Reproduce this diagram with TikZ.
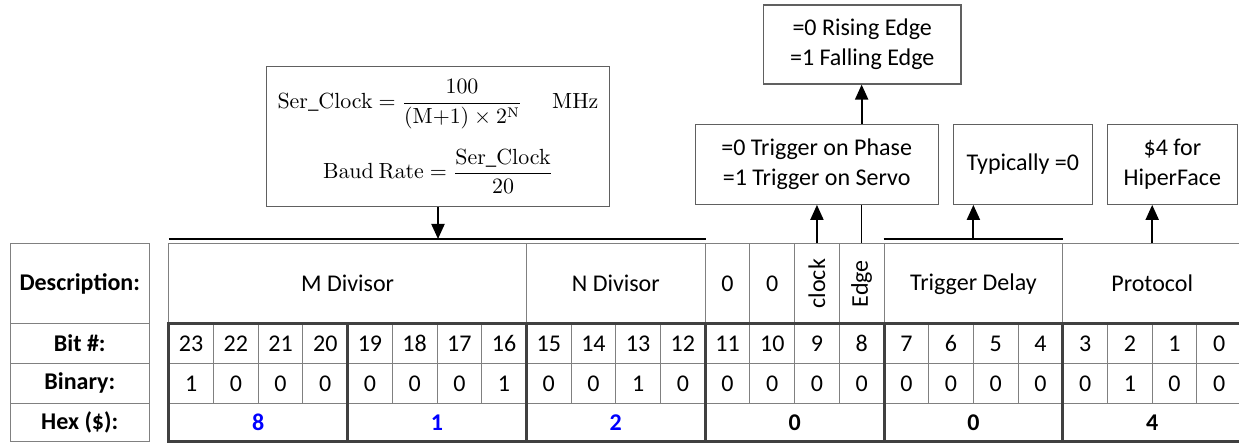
\documentclass[tikz,border=0pt]{standalone}
\usepackage[no-math]{fontspec}
\setmainfont{Carlito}
\usepackage{graphicx}
\usetikzlibrary{arrows.meta}

\definecolor{gridgray}{HTML}{808080}
\definecolor{thickgray}{HTML}{404040}
\definecolor{boxgray}{HTML}{606060}
\definecolor{hexblue}{HTML}{0000FF}

\tikzset{
  lbl/.style={font=\fontsize{12}{14}\selectfont\bfseries},
  desccell/.style={draw=gridgray, line width=0.5pt, minimum height=39.75pt,
    inner sep=0pt, font=\fontsize{12}{14}\selectfont},
  bitcell/.style={draw=gridgray, line width=0.5pt, minimum width=22.35pt,
    minimum height=20pt, inner sep=0pt, font=\fontsize{12}{14}\selectfont},
  hexcell/.style={minimum width=89.4pt, minimum height=19.2pt, inner sep=0pt,
    font=\fontsize{12}{14}\selectfont\bfseries},
  notebox/.style={draw=boxgray, line width=0.6pt, align=center, inner sep=0pt,
    font=\fontsize{12}{14.8}\selectfont},
  arr/.style={line width=1pt, -{Triangle[length=7.5pt,width=6.5pt]}},
  bracket/.style={line width=1.2pt},
  thickline/.style={thickgray, line width=1.5pt}
}

\begin{document}
\begin{tikzpicture}[x=0.5pt,y=-0.5pt]
    \useasboundingbox (0,0) rectangle (1239,443);

    % Columna de etiquetas
    \foreach \name/\top/\bot/\txt in {
      ldesc/244/323.5/Description:,
      lbit/323.5/363.3/Bit \#:,
      lbin/363.3/403.3/Binary:,
      lhex/403.3/441.7/Hex (\$):
    } {
      \draw[gridgray, line width=0.5pt] (10,\top) rectangle (149.5,\bot);
      \node[lbl] (\name) at (79.75,{(\top+\bot)/2}) {\txt};
    }

    % Fila de descripcion
    \foreach \name/\first/\n/\txt in {
      mdiv/0/8/M Divisor,
      ndiv/8/4/N Divisor,
      zeroa/12/1/0,
      zerob/13/1/0,
      clk/14/1/\rotatebox{90}{clock},
      edg/15/1/\rotatebox{90}{Edge},
      tdel/16/4/Trigger Delay,
      prot/20/4/Protocol
    } {
      \node[desccell, minimum width=\n*22.35pt] (\name)
        at ({168.8+(\first+\n/2)*44.7},283.75) {\txt};
    }

    % Bits y valores binarios
    \foreach \v [count=\i from 0] in {1,0,0,0,0,0,0,1,0,0,1,0,0,0,0,0,0,0,0,0,0,1,0,0} {
      \pgfmathtruncatemacro{\b}{23-\i}
      \node[bitcell] (bit\b) at ({168.8+(\i+0.5)*44.7},343.4) {\b};
      \node[bitcell] (bin\b) at ({168.8+(\i+0.5)*44.7},383.3) {\v};
    }

    % Valores hexadecimales
    \foreach \h/\c [count=\i from 0] in {8/hexblue,1/hexblue,2/hexblue,0/black,0/black,4/black} {
      \node[hexcell, text=\c] (hex\i) at ({168.8+(\i*4+2)*44.7},422.5) {\h};
    }

    % Bordes gruesos de los nibbles
    \draw[thickline] (168.8,323.5) rectangle (1241.6,441.7);
    \foreach \i in {1,...,5}
      \draw[thickline] ({168.8+\i*4*44.7},323.5) -- ({168.8+\i*4*44.7},441.7);

    % Cajas de notas
    \node[notebox, minimum width=171.3pt, minimum height=70pt,
      font=\fontsize{10.5}{12.6}\selectfont] (formula) at (438,136.7)
      {$\displaystyle \mathrm{Ser\_Clock} = \frac{100}{(\mathrm{M}{+}1)\times 2^{\mathrm{N}}}\hspace{15pt}\mathrm{MHz}$\\[9pt]
       $\displaystyle \mathrm{Baud\ Rate} = \frac{\mathrm{Ser\_Clock}}{20}$};
    \node[notebox, minimum width=98.8pt, minimum height=39.5pt] (rise) at (862.2,44.5)
      {=0 Rising Edge\\=1 Falling Edge};
    \node[notebox, minimum width=121.6pt, minimum height=40pt] (trig) at (816.7,164.3)
      {=0 Trigger on Phase\\=1 Trigger on Servo};
    \node[notebox, minimum width=69.5pt, minimum height=40pt] (typ) at (1022.8,164.3)
      {Typically =0};
    \node[notebox, minimum width=65.2pt, minimum height=40pt] (hiper) at (1172.4,164.3)
      {\$4 for\\HiperFace};

    % Llaves y flechas
    \coordinate (mnL) at (168.8,239);
    \coordinate (mnR) at (705.6,239);
    \coordinate (tdL) at (883.6,239);
    \coordinate (tdR) at (1063.4,239);
    \draw[bracket] (mnL) -- (mnR);
    \draw[bracket] (tdL) -- (tdR);
    \draw[arr] (formula.south) -- (formula.south |- mnL);
    \draw[arr] (tdel.north |- tdL) -- (tdel.north |- typ.south);
    \draw[arr] (clk.north) -- (clk.north |- trig.south);
    \draw[line width=0.7pt] (edg.north) -- (edg.north |- trig.south);
    \draw[arr] (edg.north |- trig.north) -- (edg.north |- rise.south);
    \draw[arr] (prot.north) -- (prot.north |- hiper.south);
\end{tikzpicture}
\end{document}
